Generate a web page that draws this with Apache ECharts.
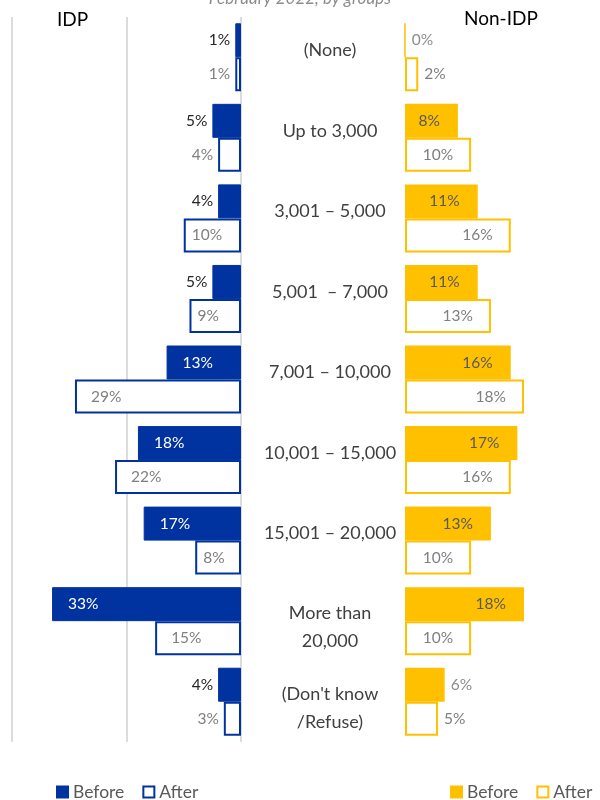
<!DOCTYPE html>
<html>
<head>
<meta charset="utf-8">
<script src="https://cdn.jsdelivr.net/npm/echarts@6/dist/echarts.min.js"></script>
<style>
  html, body { margin: 0; padding: 0; background: #fff; }
  #chart { width: 600px; height: 800px; }
</style>
</head>
<body>
<div id="chart"></div>
<script>
// Household income groups (UAH), share of respondents before / after, February 2022
const categories = [
  '(None)',
  'Up to 3,000',
  '3,001 – 5,000',
  '5,001  – 7,000',
  '7,001 – 10,000',
  '10,001 – 15,000',
  '15,001 – 20,000',
  'More than\n20,000',
  "(Don't know\n/Refuse)"
];
const idpBefore = [1, 5, 4, 5, 13, 18, 17, 33, 4];
const idpAfter = [1, 4, 10, 9, 29, 22, 8, 15, 3];
const nonIdpBefore = [0, 8, 11, 11, 16, 17, 13, 18, 6];
const nonIdpAfter = [2, 10, 16, 13, 18, 16, 10, 10, 5];
const leftTicks = [0, 20, 40];

const BLUE = '#0033a0';
const GOLD = '#ffc000';
const FONT = 'Lato';

// Short bars carry their label outside the bar end, longer ones inside it.
function barData(values, side, insideColor, outsideColor) {
  return values.map(v => {
    const outside = v < 7;
    let position, distance;
    if (side === 'left') {
      position = outside ? 'left' : 'insideLeft';
      distance = outside ? 5 : (v < 12 ? 8 : 16);
    } else {
      position = outside ? 'right' : 'insideRight';
      distance = outside ? 6 : 18;
    }
    return {
      value: v,
      label: {
        show: true,
        position: position,
        distance: distance,
        color: outside ? outsideColor : insideColor,
        fontFamily: FONT,
        fontSize: 15.5,
        formatter: p => p.value + '%'
      }
    };
  });
}

// Single-line names sit a little above the bar pair; two-line names get a
// small spacer line on top so the block sits slightly lower.
function categoryLabel(v) {
  if (v.indexOf('\n') < 0) return '{s|' + v + '}';
  return '{g| }\n' + v.split('\n').map(l => '{m|' + l + '}').join('\n');
}

const chart = echarts.init(document.getElementById('chart'));

const legendText = { fontFamily: FONT, fontSize: 17.5, color: '#595959' };

const option = {
  backgroundColor: '#ffffff',
  animation: false,
  grid: [
    { left: 12, right: 359, top: 17, height: 725 },
    { left: 405, width: 196, top: 17, height: 725 }
  ],
  xAxis: [
    {
      gridIndex: 0, type: 'value', inverse: true,
      min: leftTicks[0], max: leftTicks[leftTicks.length - 1], interval: leftTicks[1] - leftTicks[0],
      axisLabel: { show: false }, axisLine: { show: false }, axisTick: { show: false },
      splitLine: { show: true, lineStyle: { color: '#dcdcdc', width: 2 } }
    },
    {
      gridIndex: 1, type: 'value', min: 0, max: 29.5,
      axisLabel: { show: false }, axisLine: { show: false }, axisTick: { show: false },
      splitLine: { show: false }
    }
  ],
  yAxis: [
    {
      gridIndex: 0, type: 'category', data: categories, inverse: true, position: 'right',
      axisLabel: { show: false }, axisLine: { show: false }, axisTick: { show: false }
    },
    {
      gridIndex: 1, type: 'category', data: categories, inverse: true, position: 'left',
      axisLine: { show: false }, axisTick: { show: false },
      axisLabel: {
        show: true, margin: 75, align: 'center',
        formatter: categoryLabel,
        rich: {
          s: { fontFamily: FONT, fontSize: 18, color: '#404040', padding: [0, 0, 14, 0] },
          g: { fontSize: 1, lineHeight: 12 },
          m: { fontFamily: FONT, fontSize: 18, color: '#404040', lineHeight: 28 }
        }
      }
    }
  ],
  legend: [
    {
      left: 56, top: 783, padding: 0, icon: 'rect', itemWidth: 11, itemHeight: 11, itemGap: 18,
      data: ['IDP Before', 'IDP After'],
      formatter: n => n.split(' ').pop(),
      textStyle: legendText
    },
    {
      left: 450, top: 783, padding: 0, icon: 'rect', itemWidth: 11, itemHeight: 11, itemGap: 18,
      data: ['Non-IDP Before', 'Non-IDP After'],
      formatter: n => n.split(' ').pop(),
      textStyle: legendText
    }
  ],
  series: [
    {
      name: 'IDP Before', type: 'bar', xAxisIndex: 0, yAxisIndex: 0,
      barWidth: 34, barGap: '0%',
      itemStyle: { color: BLUE, borderColor: BLUE, borderWidth: 1 },
      data: barData(idpBefore, 'left', '#ffffff', '#262626')
    },
    {
      name: 'IDP After', type: 'bar', xAxisIndex: 0, yAxisIndex: 0,
      barWidth: 34, barGap: '0%',
      itemStyle: { color: '#ffffff', borderColor: BLUE, borderWidth: 2 },
      data: barData(idpAfter, 'left', '#7f7f7f', '#7f7f7f')
    },
    {
      name: 'Non-IDP Before', type: 'bar', xAxisIndex: 1, yAxisIndex: 1,
      barWidth: 34, barGap: '0%',
      itemStyle: { color: GOLD, borderColor: GOLD, borderWidth: 1.5 },
      data: barData(nonIdpBefore, 'right', '#595959', '#8c8c8c')
    },
    {
      name: 'Non-IDP After', type: 'bar', xAxisIndex: 1, yAxisIndex: 1,
      barWidth: 34, barGap: '0%',
      itemStyle: { color: '#ffffff', borderColor: GOLD, borderWidth: 2 },
      data: barData(nonIdpAfter, 'right', '#7f7f7f', '#7f7f7f')
    }
  ],
  graphic: [
    {
      type: 'text', left: 'center', top: -10,
      style: { text: 'February 2022, by groups', fontFamily: FONT, fontStyle: 'italic', fontSize: 17, fill: '#8c8c8c' }
    },
    {
      type: 'text', left: 57, top: 10,
      style: { text: 'IDP', fontFamily: FONT, fontSize: 19, fill: '#000000' }
    },
    {
      type: 'text', left: 464, top: 9,
      style: { text: 'Non-IDP', fontFamily: FONT, fontSize: 19, fill: '#000000' }
    }
  ]
};

chart.setOption(option);
</script>
</body>
</html>
